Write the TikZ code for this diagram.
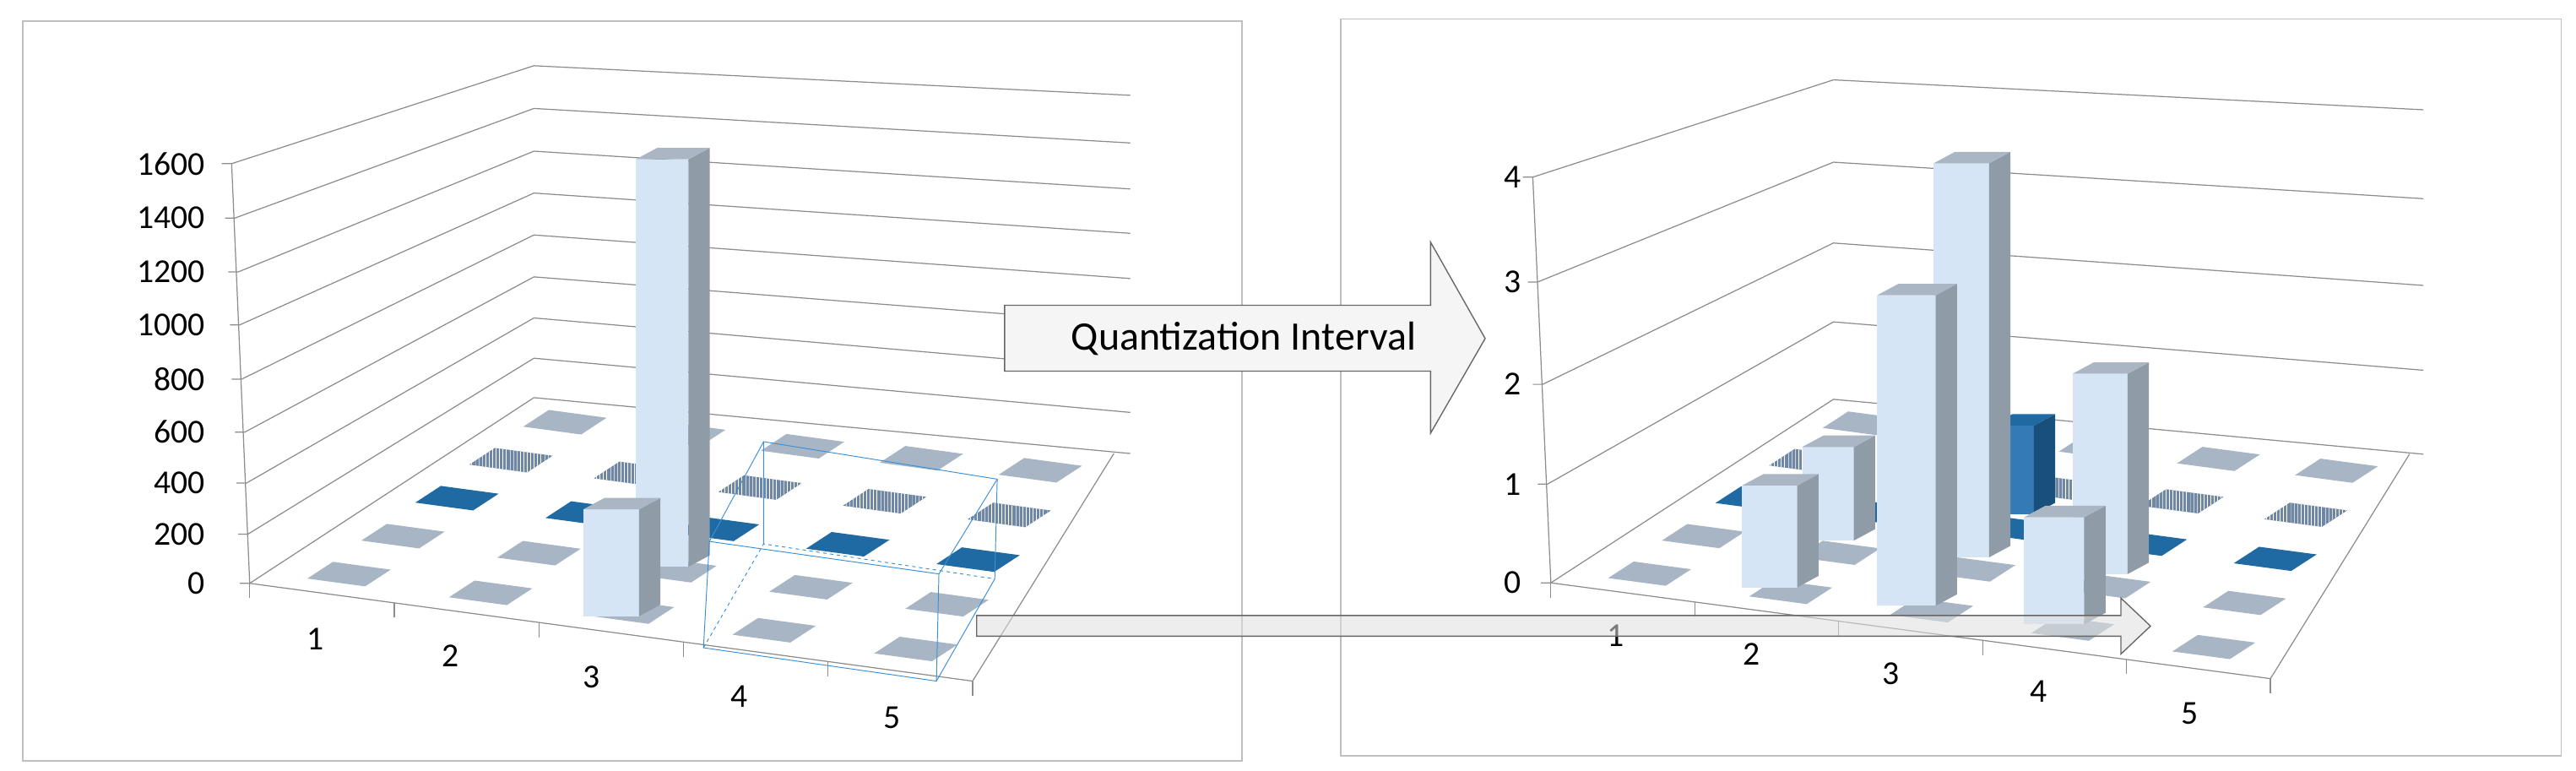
\documentclass[tikz,border=0pt]{standalone}
\usepackage{fontspec}
\setmainfont{Carlito}
\usetikzlibrary{calc}
\usetikzlibrary{patterns}

\definecolor{gridGray}{HTML}{8C8C8C}
\definecolor{frameGray}{HTML}{BFBFBF}
\definecolor{tileGray}{HTML}{A7B5C4}
\definecolor{tileBlue}{HTML}{1F6AA3}
\definecolor{hatchGray}{HTML}{6F87A3}
\definecolor{boxBlue}{HTML}{3C8FD6}
\definecolor{barFront}{HTML}{D5E5F5}
\definecolor{barSide}{HTML}{8F9BA7}
\definecolor{barTop}{HTML}{AAB6C3}

% floor tile at cell (u,v) of a chart
\newcommand{\drawTile}[4]{
	\path ($(#1F0)!#2!(#1F1)$) coordinate (tp) ($(#1B0)!#2!(#1B1)$) coordinate (tq);
	\path ($(tp)!#3!(tq)$) coordinate (tc);
	\fill[#4] ($(tc)-(#1U)-(#1V)$) -- ($(tc)+(#1U)-(#1V)$) -- ($(tc)+(#1U)+(#1V)$) -- ($(tc)-(#1U)+(#1V)$) -- cycle;
}
% bar: x1, x2, top, bottom, look
\newcommand{\drawBar}[5]{
	\fill[#5 front] (#1,#4) rectangle (#2,#3);
	\fill[#5 side] (#2,#4) -- (#2+13,#4-7) -- (#2+13,#3-7) -- (#2,#3) -- cycle;
	\fill[#5 top] (#1,#3) -- (#2,#3) -- (#2+13,#3-7) -- (#1+13,#3-7) -- cycle;
}

\begin{document}
\begin{tikzpicture}[x=0.05cm, y=-0.05cm,
	grid line/.style={gridGray, line width=0.9pt},
	frame/.style={frameGray, line width=1.2pt},
	ylab/.style={anchor=east, font=\fontsize{29}{30}\selectfont, inner sep=0pt},
	xlab/.style={font=\fontsize{29}{30}\selectfont, inner sep=0pt},
	gray tile/.style={fill=tileGray},
	blue tile/.style={fill=tileBlue},
	hatch tile/.style={fill=hatchGray, postaction={pattern=vertical lines, pattern color=white}},
	light front/.style={fill=barFront},
	light side/.style={fill=barSide},
	light top/.style={fill=barTop},
	blue front/.style={fill=boxBlue!85!black},
	blue side/.style={fill=tileBlue!75!black},
	blue top/.style={fill=tileBlue},
	box/.style={boxBlue, line width=0.7pt},
	big arrow/.style={draw=gray!80!black, line width=1pt, fill=gray!8},
	flat arrow/.style={draw=gray!80!black, line width=1pt, fill=gray!25, fill opacity=0.55}]
\useasboundingbox (0,0) rectangle (1568,469);

%%%%%%%%%%%%%%%%%% left chart
\draw[frame] (14,13) rectangle (756,463);

%Back wall
\foreach \xl/\yl/\yb/\yr in {152/355/242/276, 151/325/218/251, 150/294/193.5/225, 149/263/168.5/197,
	147/230.8/143/169.5, 146/197.7/117.5/142, 145/165.5/92/115, 143/132.7/66/87, 141/99.6/40/58}
{
	\draw[grid line] (\xl-6,\yl) -- (\xl,\yl) -- (325,\yb) -- (688,\yr);
}
\draw[grid line] (141,99.6) -- (152,355);
\foreach \v/\y in {0/355, 200/325, 400/294, 600/263, 800/230.8, 1000/197.7, 1200/165.5, 1400/132.7, 1600/99.6}
{
	\node[ylab] (lv\v) at (125,\y) {\v};
}

%Floor
\coordinate (LF0) at (152,355);
\coordinate (LF1) at (592,414.5);
\coordinate (LB0) at (325,242);
\coordinate (LB1) at (678,276);
\coordinate (LU) at ($0.04*(LF1)-0.04*(LF0)$);
\coordinate (LV) at ($0.045*(LB0)-0.045*(LF0)$);
\draw[grid line] (LF0) -- (LF1) -- (LB1);
\foreach \u in {0,0.2,...,1.01}
{
	\draw[grid line] ($(LF0)!\u!(LF1)$) -- ++(0,9);
}
\foreach \n/\x/\y in {1/192/389, 2/274/399, 3/360/412, 4/450/424, 5/543/437}
{
	\node[xlab] (lc\n) at (\x,\y) {\n};
}

% Tiles
\foreach \u in {0.1,0.3,0.5,0.7,0.9}
{
	\drawTile{L}{\u}{0.1}{gray tile}
	\drawTile{L}{\u}{0.3}{gray tile}
	\drawTile{L}{\u}{0.5}{blue tile}
	\drawTile{L}{\u}{0.7}{hatch tile}
	\drawTile{L}{\u}{0.9}{gray tile}
}

% Bars
\drawBar{387}{419}{97}{345}{light}
\drawBar{355}{389}{310}{375}{light}

% Selection box
\draw[box] (464.8,331) -- (464.8,268.8) -- (607,291.6) -- (605.5,352.3);
\draw[box, dashed] (428.2,394.2) -- (464.8,331) -- (605.5,352.3);
\draw[box] (431.8,329.5) -- (571.5,349.3) -- (607,291.6);
\draw[box] (431.8,329.5) -- (464.8,268.8);
\draw[box] (431.8,329.5) -- (428.2,394.2) -- (570,414.5) -- (605.5,352.3);
\draw[box] (571.5,349.3) -- (570,414.5);

%%%%%%%%%%%%%%%%%% right chart
\draw[frame] (816,11.5) rectangle (1559,460);

\foreach \xl/\yl/\yb/\yr in {944/354.7/243/276.4, 942/294.6/195.9/225.3, 939/233.9/147.9/173.7,
	936/171.6/98.7/120.9, 933/107.8/48.6/66.8}
{
	\draw[grid line] (\xl-6,\yl) -- (\xl,\yl) -- (1116,\yb) -- (1475,\yr);
}
\draw[grid line] (933,107.8) -- (944,354.7);
\foreach \v/\y in {0/354.7, 1/294.6, 2/233.9, 3/171.6, 4/107.8}
{
	\node[ylab] (rv\v) at (926,\y) {\v};
}

\coordinate (RF0) at (944,354.7);
\coordinate (RF1) at (1382,413);
\coordinate (RB0) at (1116,243);
\coordinate (RB1) at (1466.6,276.4);
\coordinate (RU) at ($0.04*(RF1)-0.04*(RF0)$);
\coordinate (RV) at ($0.045*(RB0)-0.045*(RF0)$);
\draw[grid line] (RF0) -- (RF1) -- (RB1);
\foreach \u in {0,0.2,...,1.01}
{
	\draw[grid line] ($(RF0)!\u!(RF1)$) -- ++(0,9);
}
\foreach \n/\x/\y in {1/983.5/387, 2/1066/398, 3/1151/410, 4/1241/420.6, 5/1333/434}
{
	\node[xlab] (rc\n) at (\x,\y) {\n};
}

\foreach \u in {0.1,0.3,0.5,0.7,0.9}
{
	\drawTile{R}{\u}{0.1}{gray tile}
	\drawTile{R}{\u}{0.3}{gray tile}
	\drawTile{R}{\u}{0.5}{blue tile}
	\drawTile{R}{\u}{0.7}{hatch tile}
	\drawTile{R}{\u}{0.9}{gray tile}
}

% Bars, back to front
\drawBar{1212}{1238}{259}{313}{blue}
\drawBar{1097}{1128.4}{272}{329}{light}
\drawBar{1177}{1210.7}{99.4}{339.2}{light}
\drawBar{1261.5}{1295}{227.5}{349.4}{light}
\drawBar{1060.4}{1093.9}{295.5}{357.5}{light}
\drawBar{1142.6}{1178.2}{179.7}{368.7}{light}
\drawBar{1232}{1268.6}{314.8}{380}{light}

%%%%%%%%%%%%%%%%%% arrows
\draw[flat arrow] (594.5,374.6) -- (1291,374.6) -- (1291,364) -- (1309,381) -- (1291,398) -- (1291,387.2) -- (594.5,387.2) -- cycle;
\draw[big arrow] (611.5,185.8) -- (870.8,185.8) -- (870.8,147.4) -- (904,206) -- (870.8,263.6) -- (870.8,225.9) -- (611.5,225.9) -- cycle;
\node[font=\fontsize{35}{36}\selectfont, inner sep=0pt] (quant) at (757,206) {Quantization Interval};

\end{tikzpicture}
\end{document}
